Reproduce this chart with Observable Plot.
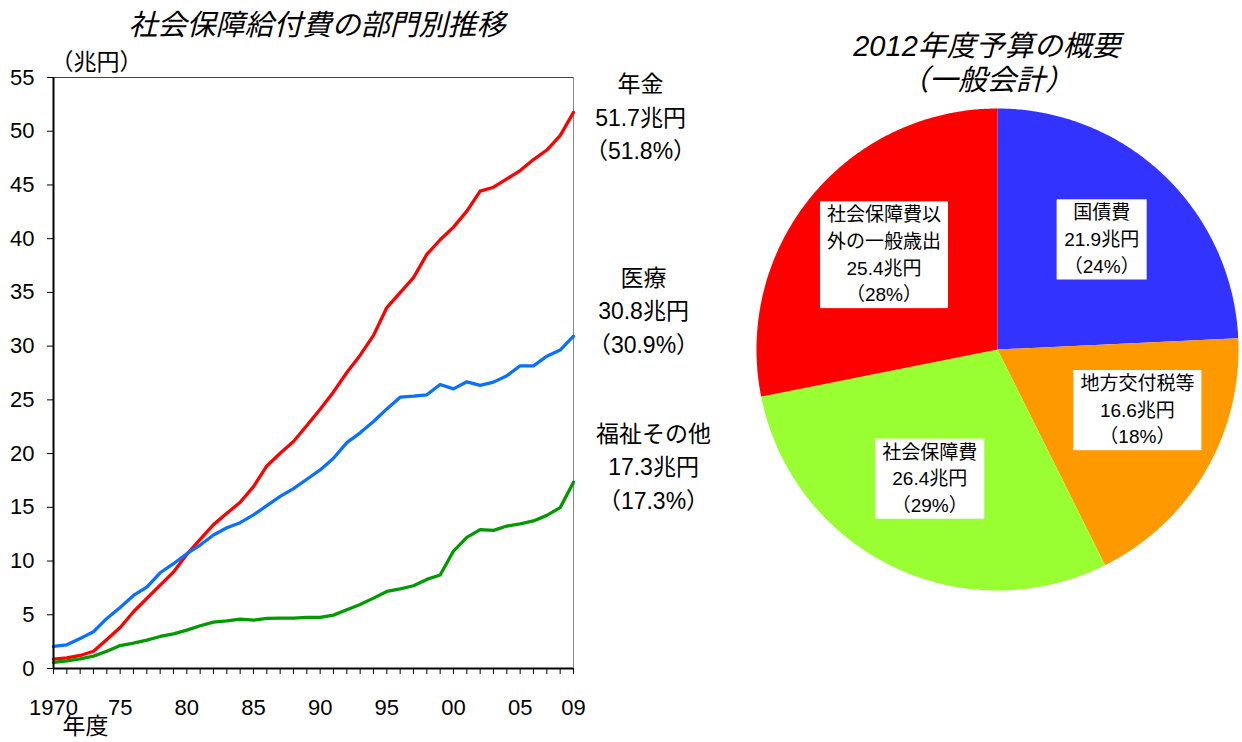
<!DOCTYPE html>
<html>
<head>
<meta charset="utf-8">
<script src="https://cdn.jsdelivr.net/npm/d3@7"></script>
<script src="https://cdn.jsdelivr.net/npm/@observablehq/plot@0.6"></script>
<style>
  html, body { margin: 0; padding: 0; background: #fff; }
  body { width: 1242px; height: 742px; position: relative; overflow: hidden;
         font-family: "Liberation Sans", "Noto Sans CJK JP", sans-serif; }
  .title { position: absolute; transform: translate(-50%, -50%); font-style: italic;
           font-size: 29px; white-space: nowrap; color: #000; text-align: center; line-height: 1;
           font-family: "Liberation Sans", "Noto Sans CJK JP", sans-serif; }
</style>
</head>
<body>
<div class="title" style="left:317px; top:25px;">社会保障給付費の部門別推移</div>
<div class="title" style="left:987px; top:46px;">2012年度予算の概要</div>
<div class="title" style="left:987px; top:80px;">（一般会計）</div>
<div id="left" style="position:absolute; left:0; top:0;"></div>
<div id="right" style="position:absolute; left:756px; top:108px;"></div>
<script>
// ---------- data: line chart ----------
const years = d3.range(1970, 2010);
const pension = [0.87,0.99,1.21,1.61,2.70,3.82,5.28,6.52,7.76,8.98,
                 10.62,12.02,13.39,14.44,15.47,16.93,18.85,20.03,21.12,22.61,
                 24.13,25.74,27.55,29.16,31.0,33.59,34.98,36.37,38.54,39.9,
                 41.08,42.56,44.42,44.79,45.56,46.34,47.36,48.25,49.59,51.75];
const medical = [2.05,2.20,2.80,3.42,4.66,5.68,6.80,7.58,8.91,9.75,
                 10.68,11.49,12.42,13.1,13.57,14.29,15.16,16.02,16.74,17.61,
                 18.48,19.57,21.02,21.93,22.98,24.16,25.25,25.34,25.47,26.43,
                 26.02,26.68,26.34,26.65,27.24,28.17,28.17,29.07,29.63,30.93];
const welfare = [0.56,0.71,0.90,1.15,1.61,2.14,2.36,2.64,2.98,3.23,
                 3.57,3.98,4.32,4.44,4.60,4.50,4.66,4.69,4.69,4.75,
                 4.75,4.97,5.47,5.96,6.55,7.17,7.42,7.70,8.29,8.70,
                 10.93,12.2,12.92,12.86,13.26,13.45,13.73,14.25,14.97,17.33];
const seriesNames = ["年金", "医療", "福祉その他"];
const latestAmounts = [51.7, 30.8, 17.3];
const latestShares = [51.8, 30.9, 17.3];
const yTicks = [0,5,10,15,20,25,30,35,40,45,50,55];
const xTickYears = [1970,1975,1980,1985,1990,1995,2000,2005,2009];
const xTickLabels = ["1970","75","80","85","90","95","00","05","09"];

// ---------- data: pie ----------
const pieItems = ["国債費", "地方交付税等", "社会保障費", "社会保障費以外の一般歳出"];
const pieAmounts = [21.9, 16.6, 26.4, 25.4];
const pieShares = [24, 18, 29, 28];

// ---------- styles ----------
const FONT = "'Liberation Sans','Noto Sans CJK JP',sans-serif";
const lineColors = ["#FF0000", "#0A70FF", "#009900"];
const pieColors = ["#3333FF", "#FF9900", "#99FF33", "#FF0000"];

const seriesValues = [pension, medical, welfare];
const rows = [];
seriesNames.forEach((s, i) => years.forEach((yr, j) =>
  rows.push({series: s, year: yr, value: seriesValues[i][j], color: lineColors[i]})));

const labelOffsets = [{dx: 67, dy: 2}, {dx: 70, dy: -29}, {dx: 80, dy: -18}];
const endLabels = seriesNames.map((s, i) =>
  Plot.text([{year: 2009, value: latestAmounts[i],
              text: `${s}\n${latestAmounts[i]}兆円\n（${latestShares[i]}%）`}], {
    x: "year", y: "value", text: "text", dx: labelOffsets[i].dx, dy: labelOffsets[i].dy,
    textAnchor: "middle", lineHeight: 1.45, fontSize: 23, fill: "#000"
  }));

const left = Plot.plot({
  width: 740, height: 742,
  marginLeft: 53, marginRight: 167, marginTop: 77, marginBottom: 74,
  x: {domain: [1970, 2009]},
  y: {domain: [0, 55]},
  style: {fontFamily: FONT, fontSize: "22px", color: "#000", background: "transparent", overflow: "visible"},
  marks: [
    Plot.axisY({ticks: yTicks, tickSize: 6, tickPadding: 13, label: null, tickFormat: d => String(d)}),
    Plot.axisX({ticks: years, tickSize: 6, tickFormat: () => "", label: null}),
    Plot.axisX({ticks: xTickYears, tickSize: 0, tickPadding: 31, label: null,
                tickFormat: d => xTickLabels[xTickYears.indexOf(d)]}),
    Plot.ruleY([55], {stroke: "#444", strokeWidth: 1}),
    Plot.ruleX([2009], {stroke: "#888", strokeWidth: 1}),
    Plot.line(rows, {x: "year", y: "value", z: "series", stroke: "color", strokeWidth: 3.3}),
    Plot.ruleX([1970], {stroke: "#000", strokeWidth: 2}),
    Plot.ruleY([0], {stroke: "#000", strokeWidth: 2}),
    Plot.text(["（兆円）"], {frameAnchor: "top-left", dx: -3, dy: -24, textAnchor: "start", fontSize: 23}),
    Plot.text(["年度"], {frameAnchor: "bottom-left", dx: 9, dy: 65, textAnchor: "start", fontSize: 23}),
    ...endLabels
  ]
});
document.getElementById("left").appendChild(left);

// ---------- pie ----------
const arcs = d3.pie().sort(null).startAngle(0).endAngle(2 * Math.PI)(pieAmounts);
const slicePts = [];
arcs.forEach((a, i) => {
  slicePts.push({name: pieItems[i], x: 0, y: 0, color: pieColors[i]});
  const n = Math.max(2, Math.ceil((a.endAngle - a.startAngle) / (Math.PI / 360)));
  for (let k = 0; k <= n; k++) {
    const t = a.startAngle + (a.endAngle - a.startAngle) * k / n;
    slicePts.push({name: pieItems[i], x: Math.sin(t), y: Math.cos(t), color: pieColors[i]});
  }
  slicePts.push({name: pieItems[i], x: 0, y: 0, color: pieColors[i]});
});
const wrap = s => s.length > 6 ? s.match(/.{1,6}/g).join("\n") : s;
// label nudges in pixels (layout only)
const labelNudge = [[1, -4], [11, -17], [-2, -7], [2, -2]];
const pieLabels = arcs.map((a, i) => {
  const m = (a.startAngle + a.endAngle) / 2;
  return {x: 0.62 * Math.sin(m), y: 0.62 * Math.cos(m), i,
          text: `${wrap(pieItems[i])}\n${pieAmounts[i]}兆円\n（${pieShares[i]}%）`};
});

const right = Plot.plot({
  width: 482, height: 482, margin: 0,
  x: {domain: [-1, 1], axis: null},
  y: {domain: [-1, 1], axis: null},
  style: {fontFamily: FONT, fontSize: "19px", color: "#000", background: "transparent", overflow: "visible"},
  marks: [
    Plot.line(slicePts, {x: "x", y: "y", z: "name", fill: "color", stroke: "none", curve: "linear"}),
    ...pieLabels.map(l => Plot.text([l], {x: "x", y: "y", text: "text", fontSize: 19, lineHeight: 1.4,
                          dx: labelNudge[l.i][0], dy: labelNudge[l.i][1],
                          textAnchor: "middle", fill: "#000"}))
  ]
});
document.getElementById("right").appendChild(right);

// white label boxes behind the pie labels, sized from the rendered text
right.querySelectorAll("text").forEach(t => {
  const b = t.getBBox();
  const r = document.createElementNS("http://www.w3.org/2000/svg", "rect");
  r.setAttribute("x", b.x - 7);
  r.setAttribute("y", b.y - 3);
  r.setAttribute("width", b.width + 14);
  r.setAttribute("height", b.height + 6);
  r.setAttribute("fill", "#fff");
  if (t.getAttribute("transform")) r.setAttribute("transform", t.getAttribute("transform"));
  t.parentNode.insertBefore(r, t);
});
</script>
</body>
</html>
